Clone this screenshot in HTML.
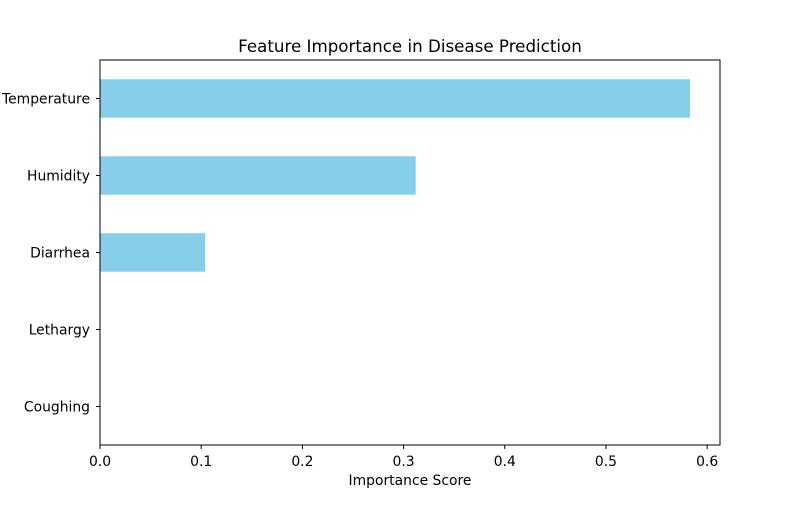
<!DOCTYPE html>
<html><head><meta charset="utf-8"><style>
body{margin:0;background:#fff;}
svg text{font-family:"DejaVu Sans","Liberation Sans",sans-serif;fill:#000;}
</style></head><body>
<svg id="chart" width="800" height="500" xmlns="http://www.w3.org/2000/svg">
<text x="410" y="52" font-size="16.7" text-anchor="middle">Feature Importance in Disease Prediction</text>
<g id="bars"></g>
<g id="xticks"></g>
<g id="yticks"></g>
<rect x="100" y="60" width="620" height="385" fill="none" stroke="#000" stroke-width="1"/>
<text x="410" y="485" font-size="13.9" text-anchor="middle">Importance Score</text>
</svg>
<script>
const categories = ["Temperature","Humidity","Diarrhea","Lethargy","Coughing"];
const values = [0.583, 0.312, 0.104, 0, 0];
const xTickLabels = ["0.0","0.1","0.2","0.3","0.4","0.5","0.6"];
const xTickValues = [0,0.1,0.2,0.3,0.4,0.5,0.6];

const L=100,R=720,T=60,B=445,XMAX=0.6127;
const ns="http://www.w3.org/2000/svg";
const xs=v=>L+v/XMAX*(R-L);
const step=(B-T)/categories.length;
const ys=i=>T+step*(i+0.5);
const bars=document.getElementById('bars');
categories.forEach((c,i)=>{
  const r=document.createElementNS(ns,'rect');
  r.setAttribute('x',xs(0));
  r.setAttribute('y',ys(i)-step*0.25);
  r.setAttribute('width',Math.max(0,xs(values[i])-xs(0)));
  r.setAttribute('height',step*0.5);
  r.setAttribute('fill','#87ceeb');
  
  
  bars.appendChild(r);
  const t=document.createElementNS(ns,'text');
  t.setAttribute('x',L-10);t.setAttribute('y',ys(i)+5);
  t.setAttribute('font-size','13.9');t.setAttribute('text-anchor','end');
  t.textContent=c;
  
  
  document.getElementById('yticks').appendChild(t);
  const l=document.createElementNS(ns,'line');
  l.setAttribute('x1',L-4);l.setAttribute('x2',L);l.setAttribute('y1',ys(i));l.setAttribute('y2',ys(i));
  l.setAttribute('stroke','#000');
  
  
  document.getElementById('yticks').appendChild(l);
});
xTickValues.forEach((v,i)=>{
  const l=document.createElementNS(ns,'line');
  l.setAttribute('x1',xs(v));l.setAttribute('x2',xs(v));l.setAttribute('y1',B);l.setAttribute('y2',B+4);
  l.setAttribute('stroke','#000');
  
  
  document.getElementById('xticks').appendChild(l);
  const t=document.createElementNS(ns,'text');
  t.setAttribute('x',xs(v));t.setAttribute('y',B+21);
  t.setAttribute('font-size','13.9');t.setAttribute('text-anchor','middle');
  t.textContent=xTickLabels[i];
  
  
  document.getElementById('xticks').appendChild(t);
});
</script>
</body></html>
